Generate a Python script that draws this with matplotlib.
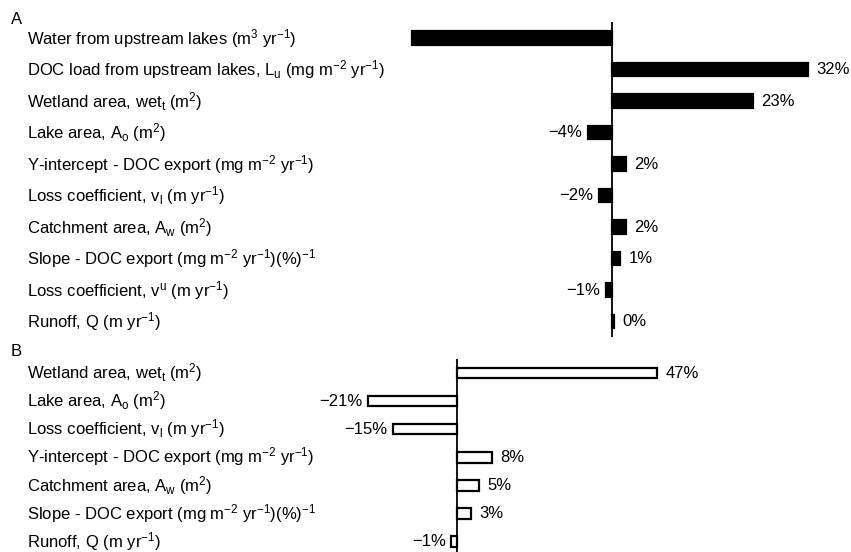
import matplotlib
matplotlib.use("Agg")
import matplotlib.pyplot as plt
from matplotlib.transforms import blended_transform_factory

plt.rcParams["font.family"] = ["Liberation Sans", "DejaVu Sans"]
plt.rcParams["mathtext.fontset"] = "custom"
plt.rcParams["mathtext.rm"] = "Liberation Sans"
plt.rcParams["mathtext.it"] = "Liberation Sans"
plt.rcParams["mathtext.default"] = "regular"

# Panel A: sensitivity of DOC, 10 parameters
names_a = [
    "Water from upstream lakes (m$^3$ yr$^{-1}$)",
    "DOC load from upstream lakes, L$_u$ (mg m$^{-2}$ yr$^{-1}$)",
    "Wetland area, wet$_t$ (m$^2$)",
    "Lake area, A$_o$ (m$^2$)",
    "Y-intercept - DOC export (mg m$^{-2}$ yr$^{-1}$)",
    "Loss coefficient, v$_l$ (m yr$^{-1}$)",
    "Catchment area, A$_w$ (m$^2$)",
    "Slope - DOC export (mg m$^{-2}$ yr$^{-1}$)(%)$^{-1}$",
    "Loss coefficient, v$^u$ (m yr$^{-1}$)",
    "Runoff, Q (m yr$^{-1}$)",
]
values_a = [-32.6, 32, 23, -3.9, 2.3, -2.1, 2.3, 1.3, -1.0, 0.3]
labels_a = ["", "32%", "23%", "\u22124%", "2%", "\u22122%", "2%", "1%", "\u22121%", "0%"]

# Panel B: 7 parameters
names_b = [
    "Wetland area, wet$_t$ (m$^2$)",
    "Lake area, A$_o$ (m$^2$)",
    "Loss coefficient, v$_l$ (m yr$^{-1}$)",
    "Y-intercept - DOC export (mg m$^{-2}$ yr$^{-1}$)",
    "Catchment area, A$_w$ (m$^2$)",
    "Slope - DOC export (mg m$^{-2}$ yr$^{-1}$)(%)$^{-1}$",
    "Runoff, Q (m yr$^{-1}$)",
]
values_b = [47, -20.9, -15, 8.2, 5.2, 3.3, -1.4]
labels_b = ["47%", "\u221221%", "\u221215%", "8%", "5%", "3%", "\u22121%"]

W, H = 851, 552
fig = plt.figure(figsize=(W / 100, H / 100), dpi=100)
FS = 12


def panel(rect_px, xlim, ylim, names, values, labels, height, face, letter, letter_y):
    x0, y0, x1, y1 = rect_px
    ax = fig.add_axes([x0 / W, (H - y1) / H, (x1 - x0) / W, (y1 - y0) / H])
    ypos = list(range(len(values)))
    ax.barh(ypos, values, height=height, color=face, edgecolor="black", linewidth=1.6)
    ax.axvline(0, color="black", lw=1.3)
    for y, v, lab in zip(ypos, values, labels):
        if not lab:
            continue
        if v >= 0:
            ax.annotate(lab, (v, y), xytext=(6, 0), textcoords="offset points",
                        ha="left", va="center", fontsize=FS)
        else:
            ax.annotate(lab, (v, y), xytext=(-4, 0), textcoords="offset points",
                        ha="right", va="center", fontsize=FS)
    ax.set_xlim(*xlim)
    ax.set_ylim(*ylim)
    ax.axis("off")
    tr = blended_transform_factory(fig.transFigure, ax.transData)
    for y, n in zip(ypos, names):
        fig.text(27 / W, y, n, transform=tr, ha="left", va="center", fontsize=FS)
    fig.text(11 / W, 1 - letter_y / H, letter, ha="left", va="center", fontsize=FS)
    return ax


panel((400, 22, 851, 337), (-34.6, 39.0), (9.49, -0.51),
      names_a, values_a, labels_a, 0.44, "black", "A", 20)
panel((300, 359, 851, 552), (-36.9, 92.5), (6.39, -0.5),
      names_b, values_b, labels_b, 0.39, "white", "B", 351)

fig.savefig("out.png", dpi=100)
